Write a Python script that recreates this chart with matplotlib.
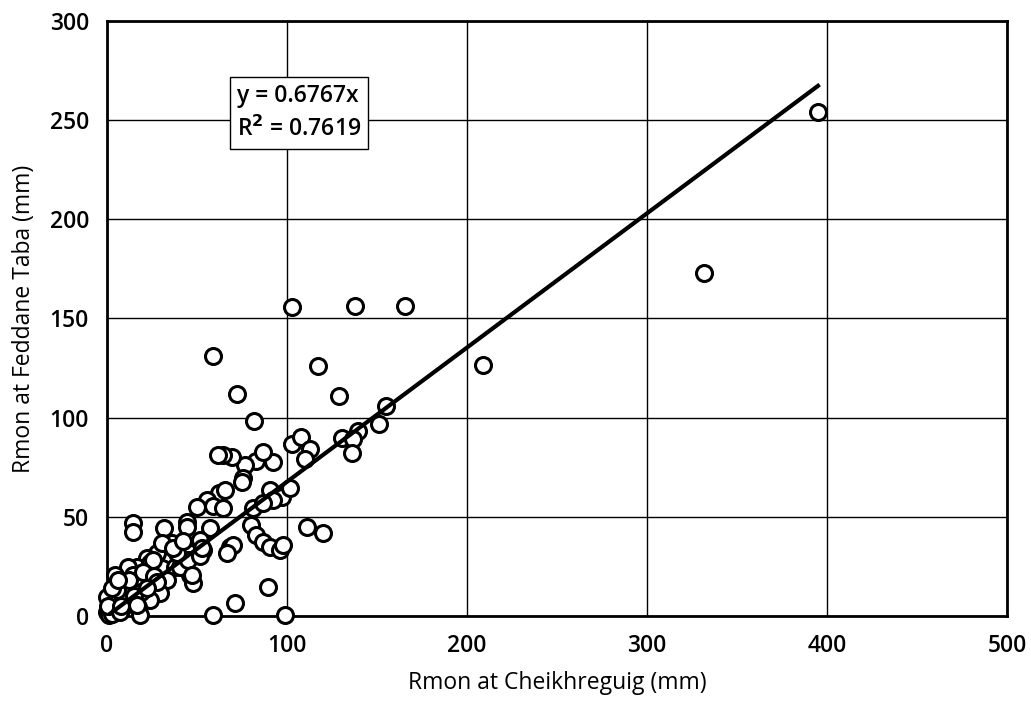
import matplotlib
matplotlib.use('Agg')
import matplotlib.pyplot as plt
import numpy as np

# monthly rainfall pairs (mm)
rmon_cheikh = [
    395, 331.5, 209, 165.5, 138, 103, 59, 117, 72, 129, 155, 151, 139.5, 130.5,
    136.7, 136, 103, 107.5, 113, 110, 92.4, 83, 86.9, 76.7, 69.3, 64.6, 61.8,
    75.7, 81.7, 74.8, 90.6, 97, 101.7, 92.4, 81, 86.5, 62, 65.5, 55.4, 49.8,
    59, 64.6, 44.3, 44.3, 14.6, 14.3, 31.7, 80, 82.5, 86.9, 90.6, 96.1, 97.9,
    68.3, 70.2, 66.9, 57.2, 51.7, 46.1, 53.5, 89.6, 71.1, 59, 98.9, 110.9, 120.2,
    33.1, 35, 27.6, 22, 16.5, 11.9, 4.4, 8.1, 14.6, 16.5, 23.9, 30.4, 37.8,
    33.1, 29.4, 23.9, 46.1, 47.9, 40.6, 45.2, 51.7, 52.6, 38.7, 23.9, 1.7, 5.4,
    17.4, 18.3, 0, 1, 9.1, 12.8, 10, 5.4, 0, 35.9, 30.4, 25.7, 36.9,
    2, 3, 0.5, 7, 12, 20, 26, 19, 42, 28, 8, 3, 6, 15, 22, 47, 16.5,
]
rmon_feddane = [
    254, 173, 126.6, 156.3, 156.3, 155.8, 131, 126, 112, 111, 106, 97, 93.3, 89.8,
    89, 82, 86.7, 90, 84, 79, 77.8, 78, 82.9, 76, 80.3, 81.2, 81,
    69.4, 98.3, 67.7, 63.5, 60.2, 64.4, 58.5, 54.3, 57, 61.9, 63.5, 58.5, 55,
    55.5, 54.5, 47.6, 45, 46.7, 42.5, 44.2, 45.9, 41, 37.5, 35, 33.3, 35.8,
    35, 35.8, 31.6, 44.2, 38.3, 31.6, 33.3, 14.8, 6.7, 0.5, 0.5, 45, 41.7,
    35, 30, 31.6, 29, 24.9, 24.9, 20.7, 14.8, 20.7, 15.6, 19.8, 24, 24.9,
    18.2, 11.4, 8.1, 20.7, 16.5, 24.9, 28.2, 30, 34.1, 31.6, 26.6, 8.1, 7.2,
    4.7, 0.5, 2, 0.5, 4.7, 8.1, 11.4, 13.1, 9.7, 36.6, 36.6, 28.2, 34.1,
    3, 1, 5, 2, 18, 22, 20, 12, 38, 17, 5, 14, 18, 10, 14, 20.7, 5.5,
]

slope = 0.6767
r2 = 0.7619

x_ticks = [0, 100, 200, 300, 400, 500]
y_ticks = [0, 50, 100, 150, 200, 250, 300]

plt.rcParams['font.family'] = ['Open Sans', 'DejaVu Sans']
plt.rcParams['font.weight'] = 'semibold'

fig = plt.figure(figsize=(10.31, 7.09), dpi=100)
ax = fig.add_axes([0.1038, 0.1312, 0.8729, 0.8392])

ax.plot(rmon_cheikh, rmon_feddane, linestyle='none', marker='o', ms=11.5,
        mfc='white', mec='black', mew=2.2, clip_on=False, zorder=3)

xfit = np.array([0, max(rmon_cheikh)])
ax.plot(xfit, slope * xfit, color='black', lw=3, zorder=4)

ax.set_xlim(0, 500)
ax.set_ylim(0, 300)
ax.set_xticks(x_ticks)
ax.set_yticks(y_ticks)
ax.grid(True, color='black', lw=1)
ax.set_axisbelow(True)
for s in ax.spines.values():
    s.set_linewidth(2)
ax.tick_params(length=0, labelsize=16.5, pad=13)

ax.set_xlabel('Rmon at Cheikhreguig (mm)', fontsize=16.5, labelpad=9)
ax.set_ylabel('Rmon at Feddane Taba (mm)', fontsize=16.5, labelpad=10)

ax.text(72, 253.5, f'y = {slope:.4f}x\nR$^2$ = {r2:.4f}',
        fontsize=16.5, va='center', ha='left', linespacing=1.45,
        bbox=dict(boxstyle='square,pad=0.3', fc='white', ec='black', lw=1),
        zorder=5)

fig.savefig('out.png', dpi=100)
